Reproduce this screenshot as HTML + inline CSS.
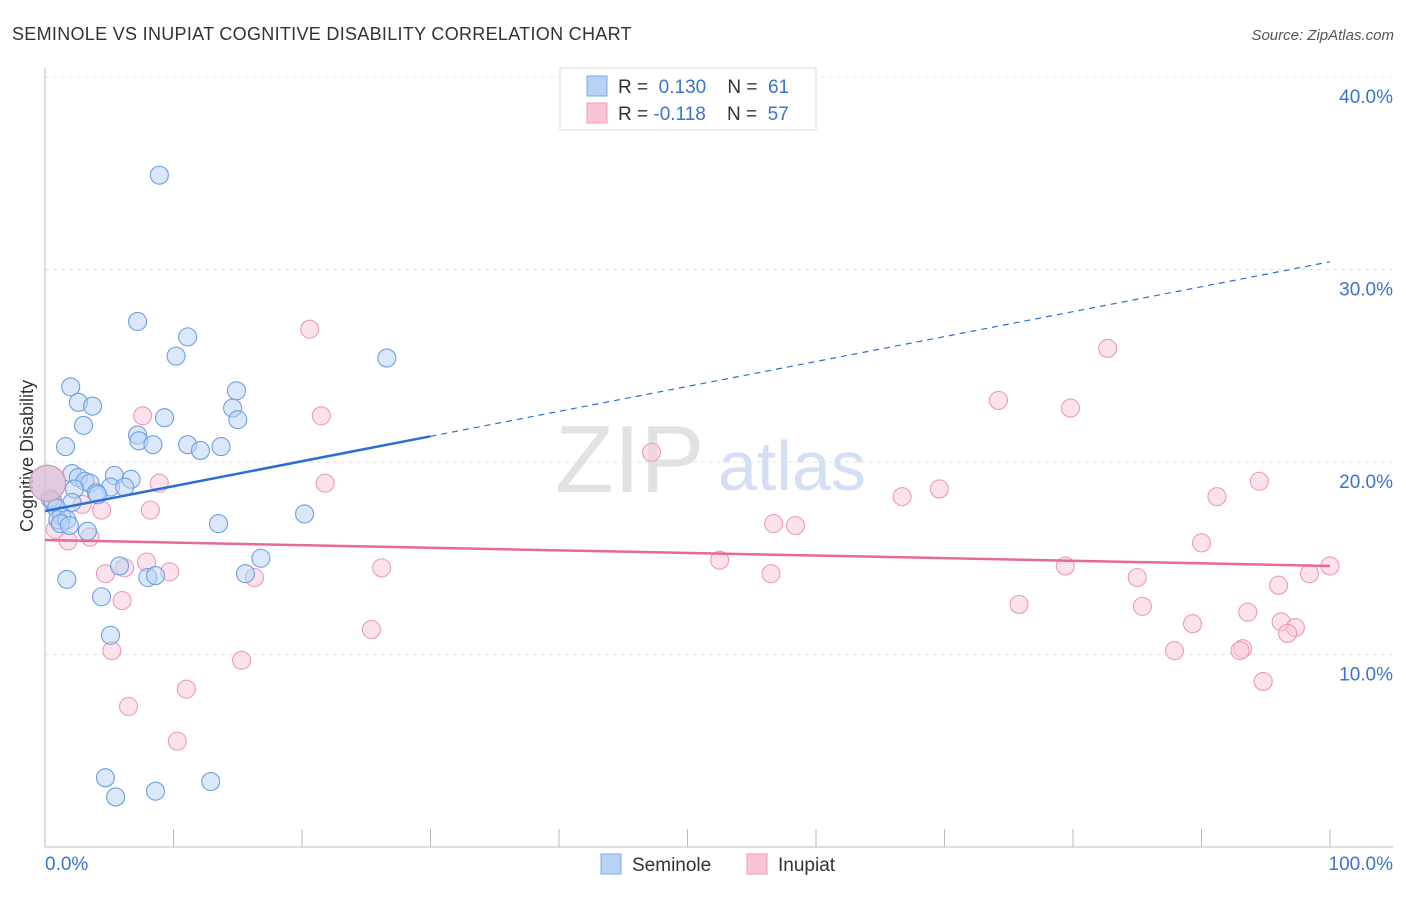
<!DOCTYPE html>
<html><head><meta charset="utf-8"><style>
body{margin:0;background:#fff;font-family:"Liberation Sans",sans-serif;}
svg text{font-family:"Liberation Sans",sans-serif;}
</style></head><body>
<svg id="c" width="1406" height="892">
<text x="12" y="40" font-size="18" fill="#333" letter-spacing="0.3">SEMINOLE VS INUPIAT COGNITIVE DISABILITY CORRELATION CHART</text>
<text x="1394" y="40" font-size="15" fill="#555" font-style="italic" text-anchor="end">Source: ZipAtlas.com</text>
<text x="33" y="456" font-size="18" fill="#333" transform="rotate(-90 33 456)" text-anchor="middle">Cognitive Disability</text>
<g id="grid"></g>
<text x="555" y="492" font-size="96" fill="#e2e2e2" font-family="Liberation Serif">ZIP</text>
<text x="718" y="490" font-size="70" fill="#d3e0f3">atlas</text>
<g id="marks"></g>
<g>
<rect x="560" y="68" width="256" height="62" fill="#fff" stroke="#ddd"/>
<rect x="587" y="76" width="20" height="20" fill="#b8d2f5" stroke="#7aaae8"/>
<rect x="587" y="103" width="20" height="20" fill="#f9c5d6" stroke="#ee9ab6"/>
<text x="618" y="93" font-size="19" fill="#333">R = <tspan fill="#3a73d1">&#160;0.130</tspan>&#160;&#160;&#160;&#160;N = <tspan fill="#3a73d1">&#160;61</tspan></text>
<text x="618" y="120" font-size="19" fill="#333">R = <tspan fill="#3a73d1">-0.118</tspan>&#160;&#160;&#160;&#160;N = <tspan fill="#3a73d1">&#160;57</tspan></text>
</g>
<g>
<rect x="601" y="854" width="20" height="20" fill="#b8d2f5" stroke="#7aaae8"/>
<text x="632" y="871" font-size="19" fill="#333">Seminole</text>
<rect x="747" y="854" width="20" height="20" fill="#f9c5d6" stroke="#ee9ab6"/>
<text x="778" y="871" font-size="19" fill="#333">Inupiat</text>
</g>
</svg>
<script>
const yTicks=[10,20,30,40];
const yTickLabels=["10.0%","20.0%","30.0%","40.0%"];
const xTickLabels=["0.0%","100.0%"];
const semX=[8.9,7.2,11.1,10.2,26.6,2.0,14.9,2.6,3.7,14.6,9.3,15.0,3.0,7.2,7.3,8.4,1.6,11.1,12.1,13.7,2.1,2.6,5.4,6.7,3.1,3.5,5.1,6.2,4.0,4.1,2.3,0.4,0.6,2.1,0.9,1.3,1.0,1.7,1.2,1.9,3.3,13.5,20.2,5.8,8.0,8.6,15.6,16.8,1.7,4.4,5.1,4.7,12.9,8.6,5.5];
const semY=[34.9,27.3,26.5,25.5,25.4,23.9,23.7,23.1,22.9,22.8,22.3,22.2,21.9,21.4,21.1,20.9,20.8,20.9,20.6,20.8,19.4,19.2,19.3,19.1,19.0,18.9,18.7,18.7,18.4,18.3,18.6,18.1,18.0,17.9,17.6,17.2,17.0,17.0,16.8,16.7,16.4,16.8,17.3,14.6,14.0,14.1,14.2,15.0,13.9,13.0,11.0,3.6,3.4,2.9,2.6];
const inuX=[20.6,82.7,74.2,79.8,7.6,21.5,47.2,8.9,21.8,66.7,69.6,91.2,94.5,0.6,2.9,4.4,8.2,56.7,58.4,3.5,1.8,0.8,90.0,52.5,79.4,100,6.2,7.9,9.7,4.7,16.3,26.2,56.5,85.0,98.4,96.0,6.0,75.8,85.4,93.6,89.3,96.2,97.3,96.7,25.4,5.2,87.9,93.2,93.0,15.3,94.8,11.0,6.5,10.3];
const inuY=[26.9,25.9,23.2,22.8,22.4,22.4,20.5,18.9,18.9,18.2,18.6,18.2,19.0,17.9,17.8,17.5,17.5,16.8,16.7,16.1,15.9,16.5,15.8,14.9,14.6,14.6,14.5,14.8,14.3,14.2,14.0,14.5,14.2,14.0,14.2,13.6,12.8,12.6,12.5,12.2,11.6,11.7,11.4,11.1,11.3,10.2,10.2,10.3,10.2,9.7,8.6,8.2,7.3,5.5];
const semTrend=[17.45,30.4];
const inuTrend=[15.95,14.6];
const semSolidEnd=30;
const xs=v=>45+v*12.85, ys=v=>847-v*19.25;
const NS="http://www.w3.org/2000/svg";
function mk(t,a,p){const e=document.createElementNS(NS,t);for(const k in a)e.setAttribute(k,a[k]);p.appendChild(e);return e;}
const g=document.getElementById('grid'), m=document.getElementById('marks');
yTicks.forEach((t,i)=>{
 const l=mk('line',{x1:45,x2:1393,y1:ys(t),y2:ys(t),stroke:'#e3e3e3','stroke-dasharray':'4,4'},g);
 
 
 const tx=mk('text',{x:1393,y:ys(t)+26,'font-size':19,fill:'#3a73d1','text-anchor':'end'},g);
 tx.textContent=yTickLabels[i];
 
 
});
mk('line',{x1:45,x2:45,y1:68,y2:847,stroke:'#bbb'},g);
mk('line',{x1:45,x2:1393,y1:847,y2:847,stroke:'#bbb'},g);
for(let i=0;i<=10;i++){const t=mk('line',{x1:xs(i*10),x2:xs(i*10),y1:829,y2:847,stroke:'#bbb'},g);
 
 }
[[0,'start',45],[1,'end',1393]].forEach(([i,a,x])=>{const t=mk('text',{x:x,y:870,'font-size':19,fill:'#3a73d1','text-anchor':a},g);t.textContent=xTickLabels[i];
 
 });
function dot(x,y,r,f,s,n,o){const c=mk('circle',{cx:xs(x),cy:ys(y),r:r,fill:f,'fill-opacity':o,stroke:s,'stroke-width':1.1},m);
 
 }
inuX.forEach((x,i)=>dot(x,inuY[i],9,'#f9c5d6','#ee9ab6','inupiat-point',0.5));
semX.forEach((x,i)=>dot(x,semY[i],9,'#b8d2f5','#6c9fe3','seminole-point',0.5));
dot(0.2,18.9,18,'#b8d2f5','#6c9fe3','seminole-point',0.5);
dot(0.2,18.9,18,'#e6b8cc','#d999b4','inupiat-point',0.6);
const f=(a,x)=>a[0]+(a[1]-a[0])*x/100;
let l=mk('line',{x1:xs(0),y1:ys(f(semTrend,0)),x2:xs(semSolidEnd),y2:ys(f(semTrend,semSolidEnd)),stroke:'#2b6fd6','stroke-width':2.5},m);


l=mk('line',{x1:xs(semSolidEnd),y1:ys(f(semTrend,semSolidEnd)),x2:xs(100),y2:ys(f(semTrend,100)),stroke:'#2b6fd6','stroke-width':1.2,'stroke-dasharray':'6,5'},m);


l=mk('line',{x1:xs(0),y1:ys(f(inuTrend,0)),x2:xs(100),y2:ys(f(inuTrend,100)),stroke:'#e8689a','stroke-width':2.5},m);


</script>
</body></html>
